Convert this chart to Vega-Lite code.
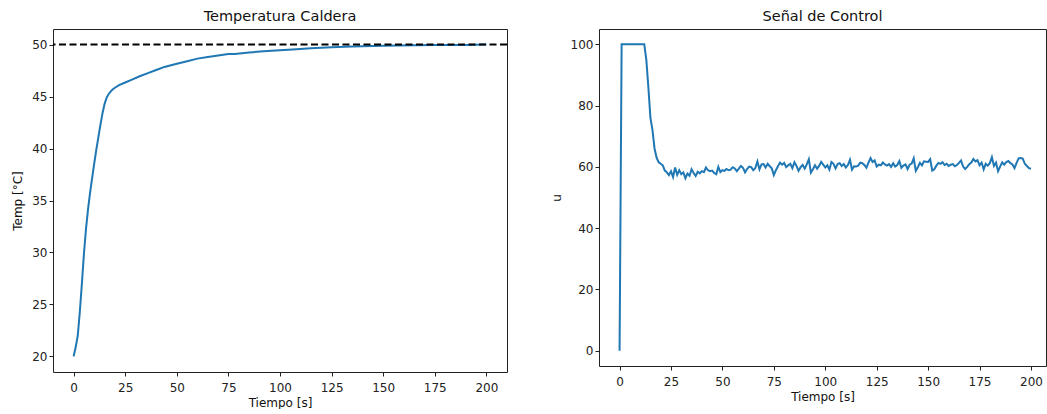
{
"$schema": "https://vega.github.io/schema/vega-lite/v6.json",
"padding": {"left": 11, "top": 8, "right": 0, "bottom": 0},
"background": "white",
"bounds": "flush",
"spacing": 92,
"config": {
  "font": "DejaVu Sans",
  "view": {"stroke": "#222", "strokeWidth": 1},
  "axis": {"grid": false, "domain": false, "tickColor": "#222", "tickSize": 4, "labelColor": "#222", "labelFontSize": 12, "titleFontSize": 12, "titleFontWeight": "normal", "titleColor": "#111", "labelFont": "DejaVu Sans", "titleFont": "DejaVu Sans"},
  "axisX": {"labelPadding": 6, "titlePadding": 4},
  "axisY": {"labelPadding": 2, "titlePadding": 7},
  "title": {"fontSize": 14.5, "fontWeight": "normal", "color": "#111", "offset": 5, "font": "DejaVu Sans"}
},
"datasets": {
  "temp": [
    {"t":0,"T":20.0},{"t":1,"T":20.9},{"t":2,"T":22.0},{"t":3,"T":24.3},{"t":4,"T":27.0},{"t":5,"T":29.9},{"t":6,"T":32.3},{"t":7,"T":34.2},{"t":8,"T":35.8},{"t":9,"T":37.2},{"t":10,"T":38.6},{"t":11,"T":39.9},{"t":12,"T":41.1},{"t":13,"T":42.3},{"t":14,"T":43.4},{"t":15,"T":44.3},{"t":16,"T":44.9},{"t":17,"T":45.25},{"t":18,"T":45.5},{"t":19,"T":45.7},{"t":20,"T":45.85},{"t":22,"T":46.1},{"t":25,"T":46.35},{"t":28,"T":46.6},{"t":32,"T":46.95},{"t":36,"T":47.25},{"t":40,"T":47.55},{"t":44,"T":47.85},{"t":50,"T":48.15},{"t":55,"T":48.4},{"t":60,"T":48.65},{"t":65,"T":48.8},{"t":70,"T":48.95},{"t":75,"T":49.1},{"t":78,"T":49.1},{"t":85,"T":49.25},{"t":92,"T":49.35},{"t":100,"T":49.45},{"t":108,"T":49.55},{"t":115,"T":49.65},{"t":125,"T":49.75},{"t":135,"T":49.82},{"t":150,"T":49.9},{"t":165,"T":49.93},{"t":175,"T":49.95},{"t":190,"T":49.97},{"t":200,"T":50.0}
  ],
  "ctrl": [
    {"t":0,"u":0},{"t":1,"u":100},{"t":2,"u":100},{"t":3,"u":100},{"t":4,"u":100},{"t":5,"u":100},{"t":6,"u":100},{"t":7,"u":100},{"t":8,"u":100},{"t":9,"u":100},{"t":10,"u":100},{"t":11,"u":100},{"t":12,"u":100},
    {"t":13,"u":95},{"t":14,"u":86},{"t":15,"u":76},{"t":16,"u":72},{"t":17,"u":66},{"t":18,"u":63},{"t":19,"u":61.5},{"t":20,"u":61},{"t":21,"u":60.5},{"t":22,"u":58.8},{"t":23,"u":58.2},{"t":24,"u":57.3},
    {"t":25,"u":58.6},{"t":26,"u":56.7},{"t":27,"u":59.8},{"t":28,"u":57.4},{"t":29,"u":58.9},{"t":30,"u":57.6},{"t":31,"u":58.2},{"t":32,"u":56.3},{"t":33,"u":57.8},{"t":34,"u":57.1},
    {"t":35,"u":59.2},{"t":36,"u":58.0},{"t":37,"u":57.0},{"t":38,"u":58.4},{"t":39,"u":57.9},{"t":40,"u":58.6},{"t":41,"u":58.3},{"t":42,"u":59.8},{"t":43,"u":58.9},{"t":44,"u":58.6},
    {"t":45,"u":58.8},{"t":46,"u":58.0},{"t":47,"u":57.6},{"t":48,"u":60.0},{"t":49,"u":58.3},{"t":50,"u":58.9},{"t":51,"u":58.7},{"t":52,"u":59.3},{"t":53,"u":58.9},{"t":54,"u":59.1},
    {"t":55,"u":59.9},{"t":56,"u":59.5},{"t":57,"u":58.6},{"t":58,"u":59.4},{"t":59,"u":60.3},{"t":60,"u":59.7},{"t":61,"u":58.2},{"t":62,"u":59.3},{"t":63,"u":60.1},{"t":64,"u":59.9},
    {"t":65,"u":58.9},{"t":66,"u":59.6},{"t":67,"u":61.8},{"t":68,"u":59.2},{"t":69,"u":60.8},{"t":70,"u":60.9},{"t":71,"u":59.8},{"t":72,"u":61.0},{"t":73,"u":60.2},{"t":74,"u":59.5},
    {"t":75,"u":57.3},{"t":76,"u":58.9},{"t":77,"u":60.2},{"t":78,"u":61.4},{"t":79,"u":60.7},{"t":80,"u":61.3},{"t":81,"u":59.9},{"t":82,"u":60.5},{"t":83,"u":61.0},{"t":84,"u":59.6},
    {"t":85,"u":61.5},{"t":86,"u":60.3},{"t":87,"u":58.7},{"t":88,"u":59.9},{"t":89,"u":60.6},{"t":90,"u":59.4},{"t":91,"u":60.8},{"t":92,"u":62.5},{"t":93,"u":58.1},{"t":94,"u":59.2},
    {"t":95,"u":60.5},{"t":96,"u":59.4},{"t":97,"u":60.3},{"t":98,"u":61.6},{"t":99,"u":60.7},{"t":100,"u":59.8},{"t":101,"u":60.5},{"t":102,"u":59.1},{"t":103,"u":61.6},{"t":104,"u":61.0},
    {"t":105,"u":59.5},{"t":106,"u":60.9},{"t":107,"u":61.2},{"t":108,"u":60.3},{"t":109,"u":60.9},{"t":110,"u":59.8},{"t":111,"u":60.6},{"t":112,"u":62.3},{"t":113,"u":59.1},{"t":114,"u":60.2},
    {"t":115,"u":60.1},{"t":116,"u":60.4},{"t":117,"u":61.4},{"t":118,"u":61.2},{"t":119,"u":60.6},{"t":120,"u":59.7},{"t":121,"u":61.4},{"t":122,"u":62.9},{"t":123,"u":61.6},{"t":124,"u":62.1},
    {"t":125,"u":60.1},{"t":126,"u":60.7},{"t":127,"u":60.5},{"t":128,"u":61.4},{"t":129,"u":60.8},{"t":130,"u":60.4},{"t":131,"u":60.9},{"t":132,"u":60.0},{"t":133,"u":61.2},{"t":134,"u":60.1},
    {"t":135,"u":60.6},{"t":136,"u":61.9},{"t":137,"u":59.7},{"t":138,"u":60.4},{"t":139,"u":60.8},{"t":140,"u":59.3},{"t":141,"u":60.7},{"t":142,"u":61.1},{"t":143,"u":62.8},{"t":144,"u":58.7},
    {"t":145,"u":59.9},{"t":146,"u":61.3},{"t":147,"u":60.5},{"t":148,"u":61.8},{"t":149,"u":61.7},{"t":150,"u":61.6},{"t":151,"u":62.5},{"t":152,"u":58.8},{"t":153,"u":59.2},{"t":154,"u":60.4},
    {"t":155,"u":61.3},{"t":156,"u":61.0},{"t":157,"u":61.5},{"t":158,"u":60.6},{"t":159,"u":61.0},{"t":160,"u":60.3},{"t":161,"u":60.7},{"t":162,"u":60.9},{"t":163,"u":60.2},{"t":164,"u":60.6},
    {"t":165,"u":61.3},{"t":166,"u":62.1},{"t":167,"u":60.1},{"t":168,"u":59.3},{"t":169,"u":60.0},{"t":170,"u":60.9},{"t":171,"u":61.4},{"t":172,"u":62.6},{"t":173,"u":61.8},{"t":174,"u":62.2},
    {"t":175,"u":60.5},{"t":176,"u":61.4},{"t":177,"u":59.2},{"t":178,"u":61.0},{"t":179,"u":60.4},{"t":180,"u":61.2},{"t":181,"u":63.2},{"t":182,"u":60.3},{"t":183,"u":61.4},{"t":184,"u":58.6},
    {"t":185,"u":60.1},{"t":186,"u":61.5},{"t":187,"u":60.7},{"t":188,"u":61.6},{"t":189,"u":61.9},{"t":190,"u":61.2},{"t":191,"u":60.8},{"t":192,"u":59.6},{"t":193,"u":61.3},{"t":194,"u":62.8},
    {"t":195,"u":62.9},{"t":196,"u":62.7},{"t":197,"u":61.0},{"t":198,"u":60.3},{"t":199,"u":59.6},{"t":200,"u":59.4}
  ]
},
"hconcat": [
  {
    "title": "Temperatura Caldera",
    "width": 454,
    "height": 343,
    "layer": [
      {
        "data": {"name": "temp"},
        "mark": {"type": "line", "color": "#1f77b4", "strokeWidth": 2},
        "encoding": {
          "x": {"field": "t", "type": "quantitative", "title": "Tiempo [s]", "scale": {"domain": [-10, 210], "nice": false, "zero": false}, "axis": {"values": [0,25,50,75,100,125,150,175,200]}},
          "y": {"field": "T", "type": "quantitative", "title": "Temp [°C]", "scale": {"domain": [18.5, 51.5], "nice": false, "zero": false}, "axis": {"values": [20,25,30,35,40,45,50]}}
        }
      },
      {
        "data": {"values": [{"ref": 50}]},
        "mark": {"type": "rule", "color": "black", "strokeWidth": 2, "strokeDash": [7, 3.5]},
        "encoding": {"y": {"field": "ref", "type": "quantitative"}}
      }
    ]
  },
  {
    "title": "Señal de Control",
    "width": 447,
    "height": 337,
    "data": {"name": "ctrl"},
    "mark": {"type": "line", "color": "#1f77b4", "strokeWidth": 2},
    "encoding": {
      "x": {"field": "t", "type": "quantitative", "title": "Tiempo [s]", "scale": {"domain": [-10, 207.3], "nice": false, "zero": false}, "axis": {"values": [0,25,50,75,100,125,150,175,200]}},
      "y": {"field": "u", "type": "quantitative", "title": "u", "scale": {"domain": [-5, 105], "nice": false, "zero": false}, "axis": {"values": [0,20,40,60,80,100]}}
    }
  }
]
}
